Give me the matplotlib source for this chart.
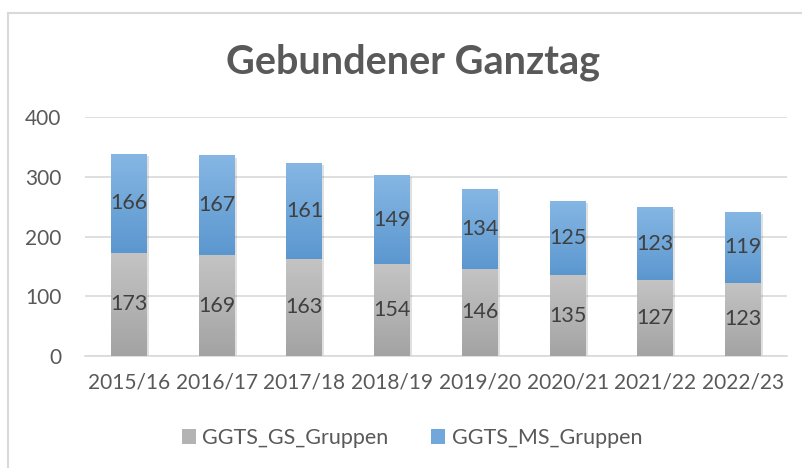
import matplotlib.pyplot as plt
import matplotlib.patheffects as pe
from matplotlib.colors import LinearSegmentedColormap
from matplotlib.lines import Line2D
from matplotlib.patches import Patch
import numpy as np

plt.rcParams['font.family'] = ['Lato', 'DejaVu Sans']

years = ['2015/16', '2016/17', '2017/18', '2018/19', '2019/20', '2020/21', '2021/22', '2022/23']
gs_gruppen = [173, 169, 163, 154, 146, 135, 127, 123]
ms_gruppen = [166, 167, 161, 149, 134, 125, 123, 119]

W, H = 802, 468
fig = plt.figure(figsize=(W / 100, H / 100), dpi=100)
ax = fig.add_axes([85 / W, (H - 356) / H, (787 - 85) / W, (356 - 117.3) / H])

# Verlaufsfarben wie in Excel
cmap_gs = LinearSegmentedColormap.from_list('gs', ['#a3a3a3', '#c4c4c4'])
cmap_ms = LinearSegmentedColormap.from_list('ms', ['#5b97cf', '#86b7e4'])
grad = np.linspace(0, 1, 256).reshape(-1, 1)

x = np.arange(len(years))
width = 0.41

for i in x:
    for bottom, h, cm in [(0, gs_gruppen[i], cmap_gs), (gs_gruppen[i], ms_gruppen[i], cmap_ms)]:
        rect = ax.bar(i, h, width, bottom=bottom, color='#b0b0b0', zorder=2,
                      path_effects=[pe.SimplePatchShadow(offset=(1.5, -1.5), alpha=0.18, shadow_rgbFace='#555555'),
                                    pe.Normal()])[0]
        im = ax.imshow(grad, extent=[i - width / 2, i + width / 2, bottom, bottom + h],
                       origin='lower', aspect='auto', cmap=cm, zorder=3)
        im.set_clip_path(rect)
    ax.text(i, gs_gruppen[i] / 2, str(gs_gruppen[i]), ha='center', va='center',
            fontsize=15.5, color='#404040', zorder=4)
    ax.text(i, gs_gruppen[i] + ms_gruppen[i] / 2, str(ms_gruppen[i]), ha='center', va='center',
            fontsize=15.5, color='#404040', zorder=4)

ax.set_xlim(-0.5, len(years) - 0.5)
ax.set_ylim(0, 400)
ax.set_yticks([0, 100, 200, 300, 400])
ax.set_xticks(x)
ax.set_xticklabels(years)
ax.tick_params(axis='both', length=0, labelsize=15, labelcolor='#595959')
ax.tick_params(axis='x', pad=12)
ax.tick_params(axis='y', pad=17)
ax.grid(axis='y', color='#d9d9d9', linewidth=1.2, zorder=0)
ax.set_axisbelow(True)
for s in ['top', 'right', 'left']:
    ax.spines[s].set_visible(False)
ax.spines['bottom'].set_color('#d9d9d9')
ax.spines['bottom'].set_linewidth(1.2)

fig.text(413 / W, 1 - 62 / H, 'Gebundener Ganztag', ha='center', va='center',
         fontsize=28.5, fontweight='bold', color='#595959')

handles = [Patch(facecolor='#b3b3b3', label='GGTS_GS_Gruppen'),
           Patch(facecolor='#71a7da', label='GGTS_MS_Gruppen')]
fig.legend(handles=handles, loc='center', bbox_to_anchor=(412 / W, 1 - 438 / H), ncol=2,
           frameon=False, fontsize=15.5, labelcolor='#595959', handlelength=0.65, handleheight=0.65,
           handletextpad=0.3, columnspacing=2.0)

# Rahmen des Diagrammbereichs
fig.add_artist(Line2D([8 / W, 8 / W], [0, 1 - 13 / H], color='#d9d9d9', linewidth=1.5))
fig.add_artist(Line2D([8 / W, 1], [1 - 13 / H, 1 - 13 / H], color='#d9d9d9', linewidth=1.5))

fig.savefig('out.png', dpi=100)
